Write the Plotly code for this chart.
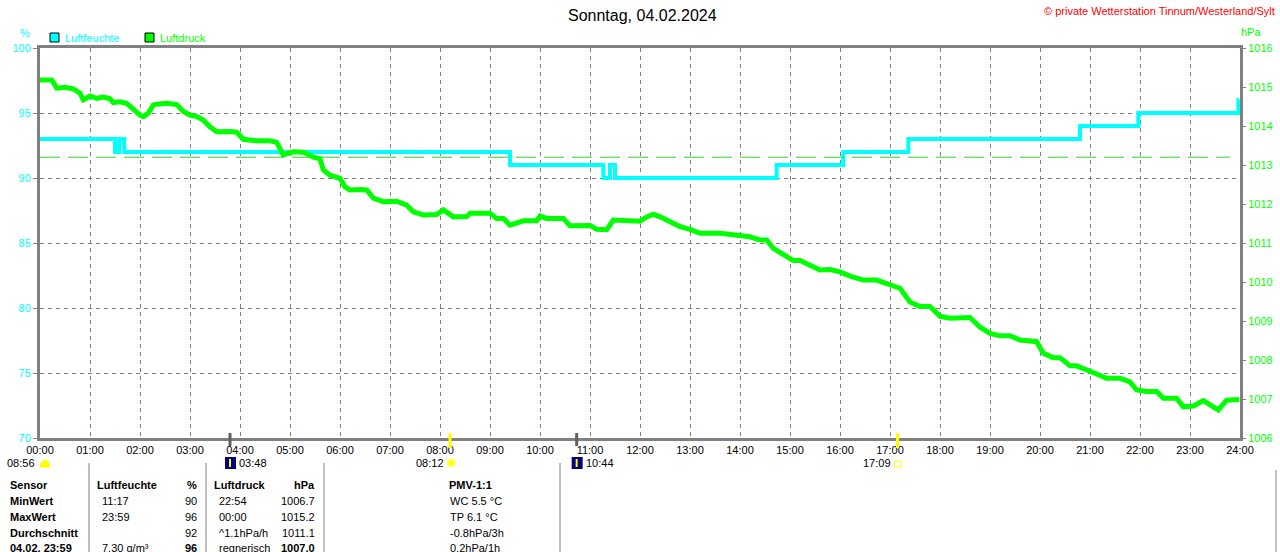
import plotly.graph_objects as go

# Luftfeuchte (%), Stufenverlauf
H_TIMES = ["00:00", "01:30", "01:35", "01:41", "09:24", "11:16", "11:24", "11:30",
           "14:44", "16:04", "17:22", "20:48", "21:58", "23:58", "23:59"]
H_VALUES = [93, 92, 93, 92, 91, 90, 91, 90, 91, 92, 93, 94, 95, 96, 96]
H_AVG = 91.6

# Luftdruck (hPa)
P_TIMES = [
    "00:00", "00:14", "00:18", "00:20", "00:30", "00:40", "00:48", "00:52", "01:00", "01:08",
    "01:16", "01:24", "01:28", "01:36", "01:44", "01:48", "02:00", "02:04", "02:10", "02:16",
    "02:20", "02:32", "02:44", "02:52", "03:00", "03:08", "03:16", "03:24", "03:32", "03:48",
    "03:56", "04:04", "04:20", "04:36", "04:44", "04:52", "05:04", "05:16", "05:28", "05:36",
    "05:40", "05:48", "06:00", "06:06", "06:12", "06:24", "06:32", "06:40", "06:52", "07:08",
    "07:20", "07:28", "07:40", "07:56", "08:04", "08:16", "08:32", "08:36", "09:00", "09:08",
    "09:16", "09:24", "09:40", "09:56", "10:00", "10:08", "10:28", "10:36", "11:00", "11:08",
    "11:20", "11:28", "11:36", "11:48", "12:00", "12:08", "12:16", "12:24", "12:36", "12:48",
    "13:00", "13:12", "13:36", "13:48", "14:00", "14:12", "14:24", "14:32", "14:40", "14:52",
    "15:04", "15:12", "15:24", "15:36", "15:48", "16:00", "16:12", "16:28", "16:44", "16:56",
    "17:12", "17:24", "17:36", "17:48", "18:00", "18:12", "18:24", "18:36", "18:48", "19:00",
    "19:12", "19:24", "19:36", "19:48", "19:56", "20:04", "20:16", "20:24", "20:36", "20:44",
    "20:56", "21:08", "21:20", "21:36", "21:48", "21:56", "22:08", "22:20", "22:28", "22:44",
    "22:52", "23:04", "23:16", "23:28", "23:34", "23:44", "23:59",
]
P_VALUES = [
    1015.18, 1015.18, 1015.05, 1014.97, 1014.99, 1014.95, 1014.84, 1014.67, 1014.77, 1014.71,
    1014.74, 1014.70, 1014.60, 1014.62, 1014.58, 1014.50, 1014.28, 1014.24, 1014.33, 1014.54,
    1014.56, 1014.58, 1014.55, 1014.37, 1014.28, 1014.24, 1014.15, 1013.98, 1013.85, 1013.86,
    1013.84, 1013.66, 1013.62, 1013.62, 1013.58, 1013.26, 1013.34, 1013.33, 1013.20, 1013.16,
    1012.87, 1012.74, 1012.66, 1012.44, 1012.36, 1012.37, 1012.36, 1012.15, 1012.06, 1012.07,
    1011.97, 1011.80, 1011.72, 1011.73, 1011.85, 1011.67, 1011.68, 1011.76, 1011.76, 1011.63,
    1011.63, 1011.46, 1011.57, 1011.57, 1011.69, 1011.63, 1011.63, 1011.44, 1011.45, 1011.35,
    1011.34, 1011.59, 1011.58, 1011.56, 1011.56, 1011.67, 1011.74, 1011.67, 1011.55, 1011.42,
    1011.35, 1011.25, 1011.25, 1011.22, 1011.22, 1011.16, 1011.08, 1011.08, 1010.86, 1010.69,
    1010.55, 1010.55, 1010.44, 1010.31, 1010.32, 1010.26, 1010.15, 1010.05, 1010.05, 1009.97,
    1009.84, 1009.49, 1009.37, 1009.37, 1009.12, 1009.07, 1009.07, 1009.09, 1008.84, 1008.68,
    1008.62, 1008.62, 1008.51, 1008.47, 1008.47, 1008.17, 1008.06, 1008.06, 1007.85, 1007.85,
    1007.76, 1007.64, 1007.53, 1007.53, 1007.44, 1007.23, 1007.19, 1007.19, 1007.02, 1007.02,
    1006.80, 1006.82, 1006.96, 1006.79, 1006.72, 1006.97, 1006.99,
]

HOUR_LABELS = [f"{h:02d}:00" for h in range(25)]

# Sonne / Mond Ereignisse unter der Achse
EVENTS = [
    ("08:56", "halfsun"),
    ("03:48", "moonrise"),
    ("08:12", "sunrise"),
    ("10:44", "moonset"),
    ("17:09", "sunset"),
]

TABLE_ROWS = [
    ["Sensor", "Luftfeuchte", "%", "Luftdruck", "hPa", "PMV-1:1"],
    ["MinWert", "11:17", "90", "22:54", "1006.7", "WC 5.5 °C"],
    ["MaxWert", "23:59", "96", "00:00", "1015.2", "TP 6.1 °C"],
    ["Durchschnitt", "", "92", "^1.1hPa/h", "1011.1", "-0.8hPa/3h"],
    ["04.02. 23:59", "7.30 g/m³", "96", "regnerisch", "1007.0", "0.2hPa/1h"],
]

CYAN = "#00ffff"
GREEN = "#00ff00"
GRAY = "#808080"
FONT = "Liberation Sans"

# Plotbereich in Pixeln
L, R, T, B = 40, 1240, 48, 438


def hours(t):
    h, m = t.split(":")
    return int(h) + int(m) / 60


def px(x):
    return (x - L) / (R - L)


def py(y):
    return (B - y) / (B - T)


def text(x, y, s, color="black", size=11, xanchor="left", bold=False):
    if bold:
        s = f"<b>{s}</b>"
    return dict(x=px(x), y=py(y), xref="paper", yref="paper", text=s, showarrow=False,
                xanchor=xanchor, yanchor="middle",
                font=dict(family=FONT, size=size, color=color))


def build_chart():
    fig = go.Figure()

    fig.add_trace(go.Scatter(
        x=[hours(t) for t in H_TIMES], y=H_VALUES, mode="lines",
        line=dict(color=CYAN, width=4, shape="hv"), hoverinfo="skip",
    ))
    fig.add_trace(go.Scatter(
        x=[0, 23.8], y=[H_AVG, H_AVG], mode="lines",
        line=dict(color="#33cc33", width=1, dash="20px,8px"), hoverinfo="skip",
    ))
    fig.add_trace(go.Scatter(
        x=[hours(t) for t in P_TIMES], y=P_VALUES, mode="lines", yaxis="y2",
        line=dict(color=GREEN, width=5), hoverinfo="skip",
    ))

    shapes, annotations = [], []

    # Legende
    shapes.append(dict(type="rect", xref="paper", yref="paper", x0=px(50), x1=px(59),
                       y0=py(42), y1=py(33), fillcolor=CYAN, line=dict(color="black", width=1)))
    shapes.append(dict(type="rect", xref="paper", yref="paper", x0=px(145), x1=px(154),
                       y0=py(42), y1=py(33), fillcolor=GREEN, line=dict(color="black", width=1)))
    annotations.append(text(63, 38, "Luftfeuchte", CYAN))
    annotations.append(text(158, 38, "Luftdruck", GREEN))
    annotations.append(text(25, 33, "%", CYAN, xanchor="center"))
    annotations.append(text(1251, 32, "hPa", GREEN, xanchor="center"))

    annotations.append(text(642, 15, "Sonntag, 04.02.2024", size=16, xanchor="center"))
    annotations.append(text(1277, 11, "© private Wetterstation Tinnum/Westerland/Sylt",
                            "red", size=11, xanchor="right"))

    # Sonne / Mond
    for t, kind in EVENTS:
        xh = hours(t)
        xp = L + xh * (R - L) / 24
        if kind in ("sunrise", "sunset"):
            shapes.append(dict(type="line", xref="x", yref="paper", x0=xh, x1=xh,
                               y0=py(433), y1=py(448), line=dict(color="#ffff00", width=3)))
        elif kind in ("moonrise", "moonset"):
            shapes.append(dict(type="line", xref="x", yref="paper", x0=xh, x1=xh,
                               y0=py(433), y1=py(446), line=dict(color="#606060", width=3)))
        if kind == "halfsun":
            shapes.append(dict(type="path", xref="paper", yref="paper",
                               path=f"M {px(40)} {py(467)} L {px(41)} {py(463)} L {px(44)} {py(460)} "
                                    f"L {px(46)} {py(460)} L {px(49)} {py(463)} L {px(50)} {py(467)} Z",
                               fillcolor="#ffff00", line=dict(color="#ffff00", width=1)))
            annotations.append(text(37, 463, t, xanchor="right"))
        elif kind == "sunrise":
            shapes.append(dict(type="circle", xref="paper", yref="paper",
                               x0=px(xp - 3), x1=px(xp + 5), y0=py(467), y1=py(459),
                               fillcolor="#ffff00", line=dict(color="#ffff99", width=2)))
            annotations.append(text(xp - 4, 463, t, xanchor="right"))
        elif kind == "sunset":
            shapes.append(dict(type="rect", xref="paper", yref="paper",
                               x0=px(xp - 3), x1=px(xp + 3), y0=py(467), y1=py(461),
                               fillcolor="white", line=dict(color="#ffff00", width=1)))
            annotations.append(text(xp - 5, 463, t, xanchor="right"))
        else:
            shapes.append(dict(type="rect", xref="paper", yref="paper",
                               x0=px(xp - 5), x1=px(xp + 6), y0=py(469), y1=py(457),
                               fillcolor="#000080", line=dict(width=0)))
            shapes.append(dict(type="line", xref="paper", yref="paper",
                               x0=px(xp), x1=px(xp), y0=py(467), y1=py(459),
                               line=dict(color="#ffff00", width=2)))
            annotations.append(text(xp + 7, 463, t))

    # Tabelle
    for xl in (89, 206, 324, 560):
        shapes.append(dict(type="line", xref="paper", yref="paper", x0=px(xl), x1=px(xl),
                           y0=py(463), y1=py(552), line=dict(color=GRAY, width=1)))
    shapes.append(dict(type="line", xref="paper", yref="paper", x0=px(1276), x1=px(1276),
                       y0=py(470), y1=py(552), line=dict(color=GRAY, width=1)))
    row_y = [485, 501, 517, 533, 548]
    for i, row in enumerate(TABLE_ROWS):
        y = row_y[i]
        head = i == 0
        annotations.append(text(8, y, row[0], bold=True))
        annotations.append(text(95 if head else 100, y, row[1], bold=head))
        annotations.append(text(199, y, row[2], xanchor="right", bold=head or i == 4))
        annotations.append(text(212 if head else 217, y, row[3], bold=head))
        annotations.append(text(317, y, row[4], xanchor="right", bold=head or i == 4))
        annotations.append(text(470 if head else 448, y, row[5],
                                xanchor="center" if head else "left", bold=head))

    fig.update_layout(
        width=1280, height=552,
        margin=dict(l=L, r=1280 - R, t=T, b=552 - B),
        paper_bgcolor="white", plot_bgcolor="white",
        showlegend=False,
        font=dict(family=FONT, size=11, color="black"),
        xaxis=dict(
            range=[0, 24], tickvals=list(range(25)), ticktext=HOUR_LABELS,
            showgrid=True, gridcolor=GRAY, gridwidth=1, griddash="4px,4px",
            showline=True, linecolor=GRAY, linewidth=3, mirror=True,
            zeroline=False, ticks="", tickfont=dict(size=11, color="black"),
            automargin=False,
        ),
        yaxis=dict(
            range=[70, 100], dtick=5,
            showgrid=True, gridcolor=GRAY, gridwidth=1, griddash="4px,4px",
            showline=True, linecolor=GRAY, linewidth=3, mirror=True,
            zeroline=False, ticks="outside", ticklen=4, tickcolor=GRAY,
            tickfont=dict(size=11, color=CYAN), automargin=False,
        ),
        yaxis2=dict(
            range=[1006, 1016], dtick=1, overlaying="y", side="right",
            showgrid=False, zeroline=False, showline=False,
            ticks="outside", ticklen=5, tickcolor=GRAY,
            tickfont=dict(size=11, color=GREEN), automargin=False,
        ),
        shapes=shapes,
        annotations=annotations,
    )
    return fig


def main():
    fig = build_chart()
    fig.write_html(
        "out.html",
        config={"displayModeBar": False},
        post_script="document.body.style.margin='0px';document.body.style.overflow='hidden';",
    )


if __name__ == "__main__":
    main()
